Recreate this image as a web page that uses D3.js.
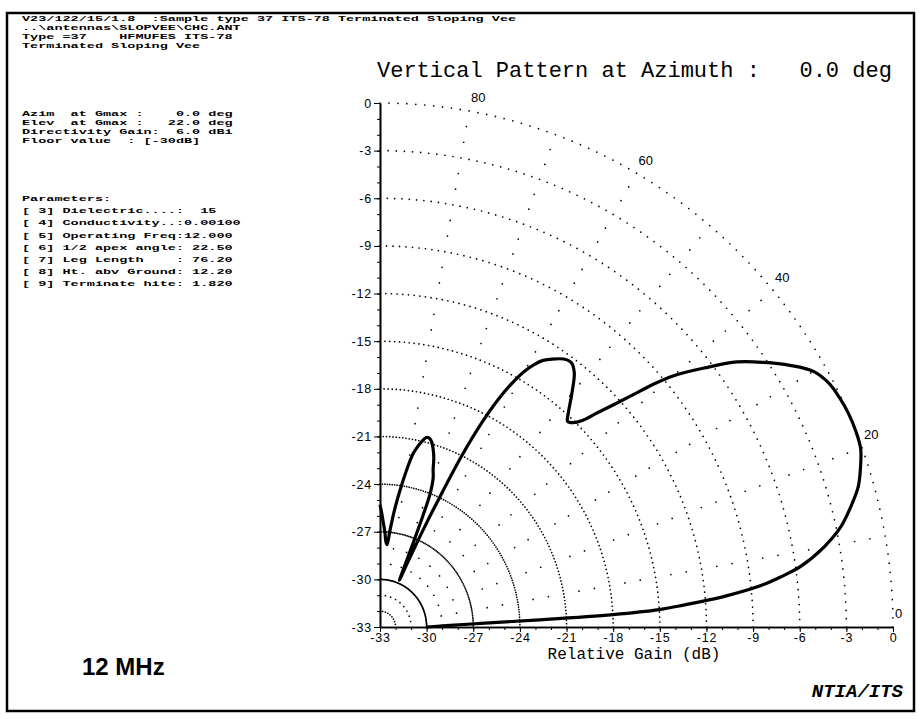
<!DOCTYPE html>
<html>
<head>
<meta charset="utf-8">
<script src="https://cdn.jsdelivr.net/npm/d3@7/dist/d3.min.js"></script>
<style>
    body { margin: 0; background: #fff; }
</style>
</head>
<body>
<div id="chart"></div>
<script>
// pattern: elevation angle (deg) and relative gain (dB)
const elevation = [0, 1, 2, 2.5, 3, 3.5, 4, 5, 6, 7, 8, 10, 12, 14, 16, 18, 20, 22, 24, 26, 28, 30, 32, 34, 36, 38,
    40, 41, 42, 43, 44, 45, 46, 47, 48, 50, 52, 53.5, 55, 57, 58, 59, 60, 61, 62, 63, 64, 65, 65.5, 66,
    66.5, 67, 67.5, 68, 68.5, 69, 70, 71, 72, 73, 74, 75, 76, 77, 78, 79, 80, 81, 82, 83, 84, 85, 86, 87, 88, 89, 90];
const relGain = [-30, -29, -26.5, -23, -18, -15, -13.5, -10.7, -8.5, -7, -5.7, -4, -2.7, -1.8, -1, -0.5, -0.1, 0, 0, -0.1, -0.3, -0.8, -1.9, -3.2, -4.6, -6.5,
    -8.4, -9.7, -11.2, -12.5, -13.6, -14.6, -15.1, -15.3, -14.9, -13.8, -12.7, -12.3, -12.4, -12.9, -13.2, -13.7, -14.4, -15.4, -16.7, -18.5, -21, -24.5, -26, -27.5,
    -28.8, -29.8, -29, -27.5, -25.5, -24, -23, -22.5, -21.8, -21.3, -20.9, -20.7, -20.7, -21, -21.4, -21.9, -22.8, -23.8, -24.8, -25.8, -26.9, -27.8, -27.6, -27, -26.5, -25.9, -25.3];

const ringLevels = [-30, -27, -24, -21, -18, -15, -12, -9, -6, -3, 0];
const radialAngles = [10, 20, 30, 40, 50, 60, 70, 80];
const angleLabels = [0, 20, 40, 60, 80];
const gainTicks = [-33, -30, -27, -24, -21, -18, -15, -12, -9, -6, -3, 0];

const headerLines = [
    'V23/122/15/1.8  :Sample type 37 ITS-78 Terminated Sloping Vee',
    '..\\antennas\\SLOPVEE\\CHC.ANT',
    'Type =37    HFMUFES ITS-78',
    'Terminated Sloping Vee',
];
const gmaxLines = [
    'Azim  at Gmax :    0.0 deg',
    'Elev  at Gmax :   22.0 deg',
    'Directivity Gain:  6.0 dBi',
    'Floor value  : [-30dB]',
];
const paramLines = [
    'Parameters:',
    '[ 3] Dielectric....:  15',
    '[ 4] Conductivity..:0.00100',
    '[ 5] Operating Freq:12.000',
    '[ 6] 1/2 apex angle: 22.50',
    '[ 7] Leg Length    : 76.20',
    '[ 8] Ht. abv Ground: 12.20',
    '[ 9] Terminate hite: 1.820',
];

const width = 920;
const height = 719;
const floorDb = -33;

const svg = d3
    .select('#chart')
    .append('svg')
    .attr('width', width)
    .attr('height', height);

// page frame
svg.append('rect')
    .attr('x', 7)
    .attr('y', 13)
    .attr('width', 907)
    .attr('height', 698)
    .attr('fill', 'none')
    .attr('stroke', 'black')
    .attr('stroke-width', 2.5);

// scales (gain along both axes, origin = floor at bottom-left)
const x = d3.scaleLinear().domain([-33, 0]).range([380, 893]);
const y = d3.scaleLinear().domain([-33, 0]).range([627, 103]);

function polar(r, deg) {
    const a = (deg * Math.PI) / 180;
    return [x(floorDb + r * Math.cos(a)), y(floorDb + r * Math.sin(a))];
}

// dotted rings
const ringDots = [];
ringLevels.forEach((lev) => {
    const r = lev - floorDb;
    for (let a = 0; a <= 90; a += 1) ringDots.push(polar(r, a));
});
// dotted radials, one dot per dB
radialAngles.forEach((a) => {
    for (let r = 1; r <= 32; r++) {
        if (r % 3 !== 0) ringDots.push(polar(r, a));
    }
});
svg.append('g')
    .selectAll('circle')
    .data(ringDots)
    .enter()
    .append('circle')
    .attr('cx', (d) => d[0])
    .attr('cy', (d) => d[1])
    .attr('r', 0.85)
    .attr('fill', 'black');

// elevation labels on outer ring
svg.append('g')
    .selectAll('text')
    .data(angleLabels)
    .enter()
    .append('text')
    .attr('x', (d) => polar(33, d)[0] + 2)
    .attr('y', (d) => polar(33, d)[1] - 12)
    .attr('dominant-baseline', 'middle')
    .style('font-family', 'Liberation Sans, Arial, sans-serif')
    .style('font-size', '13px')
    .text((d) => d);

// axes
const axisFont = (g) =>
    g.selectAll('text')
        .style('font-family', 'Liberation Sans, Arial, sans-serif')
        .style('font-size', '12.5px')
        .style('letter-spacing', '0.8px')
        .attr('fill', 'black');

const yAxis = svg.append('g')
    .attr('transform', 'translate(380,0)')
    .call(d3.axisLeft(y).tickValues(gainTicks).tickSize(6).tickSizeOuter(0).tickPadding(2).tickFormat((d) => String(d)));
yAxis.call(axisFont);
svg.append('g')
    .attr('transform', 'translate(380,0)')
    .call(d3.axisLeft(y).tickValues(d3.range(-33, 1)).tickSize(3).tickSizeOuter(0).tickFormat(''));

const xAxis = svg.append('g')
    .attr('transform', 'translate(0,627)')
    .call(d3.axisBottom(x).tickValues(gainTicks).tickSize(5).tickSizeOuter(0).tickPadding(1).tickFormat((d) => String(d)));
xAxis.call(axisFont);
svg.append('g')
    .attr('transform', 'translate(0,627)')
    .call(d3.axisBottom(x).tickValues(d3.range(-33, 1)).tickSize(3).tickSizeOuter(0).tickFormat(''));
svg.selectAll('.domain').attr('stroke-width', 1.6);

// the pattern
const pts = elevation.map((e, i) => polar(relGain[i] - floorDb, e));
svg.append('path')
    .attr('d', d3.line().curve(d3.curveCatmullRom.alpha(0.5))(pts))
    .attr('fill', 'none')
    .attr('stroke', 'black')
    .attr('stroke-width', 3.2)
    .attr('stroke-linejoin', 'round');

// titles
svg.append('text')
    .attr('x', 377)
    .attr('y', 77)
    .style('font-family', 'Liberation Mono, monospace')
    .style('font-size', '22px')
    .attr('xml:space', 'preserve')
    .text('Vertical Pattern at Azimuth :   0.0 deg');

svg.append('text')
    .attr('x', 634)
    .attr('y', 659)
    .attr('text-anchor', 'middle')
    .style('font-family', 'Liberation Mono, monospace')
    .style('font-size', '16px')
    .text('Relative Gain (dB)');

// info text at left: squat, wide monospace like the printout
const charW = 8.1;
function textBlock(lines, y0, step) {
    svg.append('g')
        .selectAll('text')
        .data(lines)
        .enter()
        .append('text')
        .attr('transform', (d, i) => `translate(22,${y0 + i * step}) scale(1,0.7)`)
        .attr('xml:space', 'preserve')
        .attr('textLength', (d) => d.length * charW)
        .attr('lengthAdjust', 'spacingAndGlyphs')
        .style('white-space', 'pre')
        .style('font-family', 'Liberation Mono, monospace')
        .style('font-weight', 'bold')
        .style('font-size', '11px')
        .text((d) => d);
}
textBlock(headerLines, 21, 9);
textBlock(gmaxLines, 116, 9);
textBlock(paramLines, 201, 12.2);

svg.append('text')
    .attr('x', 82)
    .attr('y', 675)
    .style('font-family', 'Liberation Sans, Arial, sans-serif')
    .style('font-weight', 'bold')
    .style('font-size', '24px')
    .text('12 MHz');

svg.append('text')
    .attr('x', 903)
    .attr('y', 697)
    .attr('text-anchor', 'end')
    .style('font-family', 'Liberation Mono, monospace')
    .style('font-weight', 'bold')
    .style('font-style', 'italic')
    .style('font-size', '19px')
    .text('NTIA/ITS');
</script>
</body>
</html>
